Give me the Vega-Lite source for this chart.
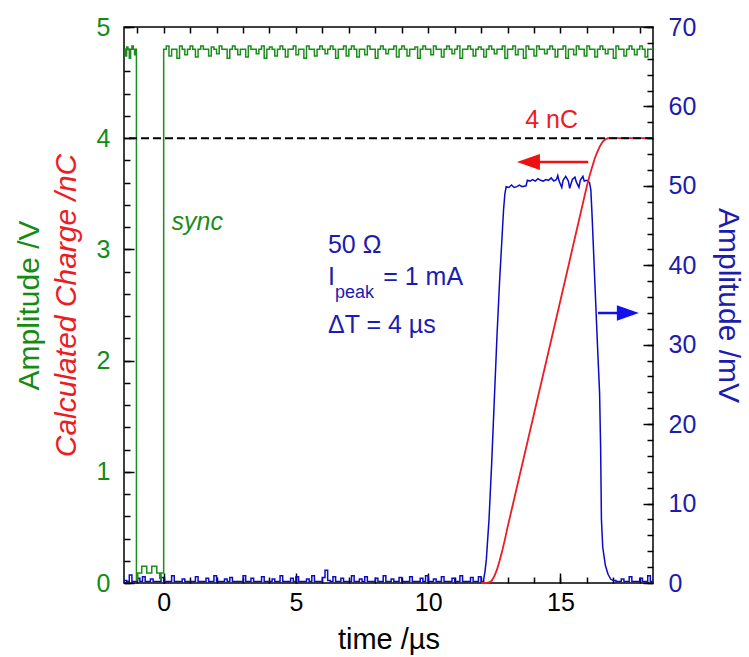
{
  "$schema": "https://vega.github.io/schema/vega-lite/v6.json",
  "width": 529,
  "height": 556,
  "autosize": {"type": "none"},
  "padding": {"left": 124, "top": 27, "right": 96, "bottom": 74},
  "config": {
    "view": {"stroke": "black", "strokeWidth": 1.5},
    "axis": {"domain": false, "grid": false, "labelFont": "Liberation Sans", "titleFont": "Liberation Sans", "labelFontSize": 25, "titleFontSize": 30, "titleFontWeight": "normal", "tickColor": "black", "tickWidth": 1.5},
    "text": {"font": "Liberation Sans"}
  },
  "datasets": {
    "sync": [
      {"t": -1.5, "v": 4.8}, {"t": -1.45, "v": 4.74}, {"t": -1.4, "v": 4.82}, {"t": -1.35, "v": 4.8}, {"t": -1.3, "v": 4.72}, {"t": -1.25, "v": 4.8}, {"t": -1.2, "v": 4.83}, {"t": -1.15, "v": 4.8}, {"t": -1.1, "v": 4.75}, {"t": -1.06, "v": 4.8},
      {"t": -1.03, "v": 0.03}, {"t": -0.98, "v": 0.09}, {"t": -0.83, "v": 0.15}, {"t": -0.64, "v": 0.09}, {"t": -0.45, "v": 0.15}, {"t": -0.26, "v": 0.09}, {"t": -0.15, "v": 0.04}, {"t": -0.1, "v": 0.09},
      {"t": 0.0, "v": 4.8}, {"t": 0.1, "v": 4.83}, {"t": 0.2, "v": 4.74}, {"t": 0.3, "v": 4.8}, {"t": 0.4, "v": 4.8}, {"t": 0.5, "v": 4.72}, {"t": 0.6, "v": 4.83}, {"t": 0.7, "v": 4.8}, {"t": 0.8, "v": 4.75}, {"t": 0.9, "v": 4.8},
      {"t": 1.0, "v": 4.83}, {"t": 1.1, "v": 4.8}, {"t": 1.2, "v": 4.73}, {"t": 1.3, "v": 4.8}, {"t": 1.4, "v": 4.83}, {"t": 1.5, "v": 4.8}, {"t": 1.6, "v": 4.8}, {"t": 1.7, "v": 4.74}, {"t": 1.8, "v": 4.82}, {"t": 1.9, "v": 4.8},
      {"t": 2.0, "v": 4.76}, {"t": 2.1, "v": 4.83}, {"t": 2.2, "v": 4.8}, {"t": 2.3, "v": 4.8}, {"t": 2.4, "v": 4.72}, {"t": 2.5, "v": 4.8}, {"t": 2.6, "v": 4.83}, {"t": 2.7, "v": 4.8}, {"t": 2.8, "v": 4.75}, {"t": 2.9, "v": 4.8},
      {"t": 3.0, "v": 4.8}, {"t": 3.1, "v": 4.73}, {"t": 3.2, "v": 4.83}, {"t": 3.3, "v": 4.8}, {"t": 3.4, "v": 4.8}, {"t": 3.5, "v": 4.76}, {"t": 3.6, "v": 4.8}, {"t": 3.7, "v": 4.83}, {"t": 3.8, "v": 4.72}, {"t": 3.9, "v": 4.8},
      {"t": 4.0, "v": 4.82}, {"t": 4.1, "v": 4.8}, {"t": 4.2, "v": 4.74}, {"t": 4.3, "v": 4.8}, {"t": 4.4, "v": 4.83}, {"t": 4.5, "v": 4.8}, {"t": 4.6, "v": 4.73}, {"t": 4.7, "v": 4.8}, {"t": 4.8, "v": 4.8}, {"t": 4.9, "v": 4.83},
      {"t": 5.0, "v": 4.75}, {"t": 5.1, "v": 4.8}, {"t": 5.2, "v": 4.8}, {"t": 5.3, "v": 4.72}, {"t": 5.4, "v": 4.83}, {"t": 5.5, "v": 4.8}, {"t": 5.6, "v": 4.8}, {"t": 5.7, "v": 4.74}, {"t": 5.8, "v": 4.8}, {"t": 5.9, "v": 4.83},
      {"t": 6.0, "v": 4.8}, {"t": 6.1, "v": 4.76}, {"t": 6.2, "v": 4.8}, {"t": 6.3, "v": 4.83}, {"t": 6.4, "v": 4.8}, {"t": 6.5, "v": 4.72}, {"t": 6.6, "v": 4.8}, {"t": 6.7, "v": 4.8}, {"t": 6.8, "v": 4.83}, {"t": 6.9, "v": 4.74},
      {"t": 7.0, "v": 4.8}, {"t": 7.1, "v": 4.83}, {"t": 7.2, "v": 4.8}, {"t": 7.3, "v": 4.73}, {"t": 7.4, "v": 4.8}, {"t": 7.5, "v": 4.8}, {"t": 7.6, "v": 4.75}, {"t": 7.7, "v": 4.83}, {"t": 7.8, "v": 4.8}, {"t": 7.9, "v": 4.8},
      {"t": 8.0, "v": 4.72}, {"t": 8.1, "v": 4.8}, {"t": 8.2, "v": 4.83}, {"t": 8.3, "v": 4.8}, {"t": 8.4, "v": 4.76}, {"t": 8.5, "v": 4.8}, {"t": 8.6, "v": 4.8}, {"t": 8.7, "v": 4.83}, {"t": 8.8, "v": 4.73}, {"t": 8.9, "v": 4.8},
      {"t": 9.0, "v": 4.83}, {"t": 9.1, "v": 4.8}, {"t": 9.2, "v": 4.74}, {"t": 9.3, "v": 4.8}, {"t": 9.4, "v": 4.8}, {"t": 9.5, "v": 4.82}, {"t": 9.6, "v": 4.72}, {"t": 9.7, "v": 4.8}, {"t": 9.8, "v": 4.83}, {"t": 9.9, "v": 4.8},
      {"t": 10.0, "v": 4.8}, {"t": 10.1, "v": 4.75}, {"t": 10.2, "v": 4.83}, {"t": 10.3, "v": 4.8}, {"t": 10.4, "v": 4.8}, {"t": 10.5, "v": 4.73}, {"t": 10.6, "v": 4.8}, {"t": 10.7, "v": 4.83}, {"t": 10.8, "v": 4.8}, {"t": 10.9, "v": 4.76},
      {"t": 11.0, "v": 4.8}, {"t": 11.1, "v": 4.83}, {"t": 11.2, "v": 4.72}, {"t": 11.3, "v": 4.8}, {"t": 11.4, "v": 4.8}, {"t": 11.5, "v": 4.83}, {"t": 11.6, "v": 4.8}, {"t": 11.7, "v": 4.74}, {"t": 11.8, "v": 4.8}, {"t": 11.9, "v": 4.82},
      {"t": 12.0, "v": 4.8}, {"t": 12.1, "v": 4.73}, {"t": 12.2, "v": 4.8}, {"t": 12.3, "v": 4.83}, {"t": 12.4, "v": 4.8}, {"t": 12.5, "v": 4.76}, {"t": 12.6, "v": 4.8}, {"t": 12.7, "v": 4.8}, {"t": 12.8, "v": 4.83}, {"t": 12.9, "v": 4.72},
      {"t": 13.0, "v": 4.8}, {"t": 13.1, "v": 4.8}, {"t": 13.2, "v": 4.83}, {"t": 13.3, "v": 4.75}, {"t": 13.4, "v": 4.8}, {"t": 13.5, "v": 4.8}, {"t": 13.6, "v": 4.72}, {"t": 13.7, "v": 4.83}, {"t": 13.8, "v": 4.8}, {"t": 13.9, "v": 4.8},
      {"t": 14.0, "v": 4.74}, {"t": 14.1, "v": 4.83}, {"t": 14.2, "v": 4.8}, {"t": 14.3, "v": 4.8}, {"t": 14.4, "v": 4.76}, {"t": 14.5, "v": 4.8}, {"t": 14.6, "v": 4.83}, {"t": 14.7, "v": 4.8}, {"t": 14.8, "v": 4.73}, {"t": 14.9, "v": 4.8},
      {"t": 15.0, "v": 4.8}, {"t": 15.1, "v": 4.83}, {"t": 15.2, "v": 4.72}, {"t": 15.3, "v": 4.8}, {"t": 15.4, "v": 4.8}, {"t": 15.5, "v": 4.75}, {"t": 15.6, "v": 4.83}, {"t": 15.7, "v": 4.8}, {"t": 15.8, "v": 4.8}, {"t": 15.9, "v": 4.74},
      {"t": 16.0, "v": 4.83}, {"t": 16.1, "v": 4.8}, {"t": 16.2, "v": 4.8}, {"t": 16.3, "v": 4.73}, {"t": 16.4, "v": 4.8}, {"t": 16.5, "v": 4.83}, {"t": 16.6, "v": 4.8}, {"t": 16.7, "v": 4.76}, {"t": 16.8, "v": 4.8}, {"t": 16.9, "v": 4.8},
      {"t": 17.0, "v": 4.72}, {"t": 17.1, "v": 4.83}, {"t": 17.2, "v": 4.8}, {"t": 17.3, "v": 4.8}, {"t": 17.4, "v": 4.74}, {"t": 17.5, "v": 4.8}, {"t": 17.6, "v": 4.83}, {"t": 17.7, "v": 4.8}, {"t": 17.8, "v": 4.75}, {"t": 17.9, "v": 4.8},
      {"t": 18.0, "v": 4.83}, {"t": 18.1, "v": 4.8}, {"t": 18.2, "v": 4.73}, {"t": 18.3, "v": 4.8}, {"t": 18.4, "v": 4.8}, {"t": 18.5, "v": 4.8}
    ],
    "blueNoise": [
      {"s": "a", "t": -1.5, "mv": 0.3}, {"s": "a", "t": -1.4, "mv": 0.2}, {"s": "a", "t": -1.3, "mv": 1.0}, {"s": "a", "t": -1.2, "mv": 0.2}, {"s": "a", "t": -1.1, "mv": 0.2}, {"s": "a", "t": -1.0, "mv": 0.6}, {"s": "a", "t": -0.9, "mv": 0.2}, {"s": "a", "t": -0.8, "mv": 0.8}, {"s": "a", "t": -0.7, "mv": 0.2}, {"s": "a", "t": -0.6, "mv": 0.2},
      {"s": "a", "t": -0.5, "mv": 0.5}, {"s": "a", "t": -0.4, "mv": 0.2}, {"s": "a", "t": -0.3, "mv": 0.2}, {"s": "a", "t": -0.2, "mv": 0.2}, {"s": "a", "t": -0.1, "mv": 0.7}, {"s": "a", "t": 0.0, "mv": 0.2}, {"s": "a", "t": 0.1, "mv": 0.2}, {"s": "a", "t": 0.2, "mv": 0.2}, {"s": "a", "t": 0.3, "mv": 0.9}, {"s": "a", "t": 0.4, "mv": 0.2},
      {"s": "a", "t": 0.5, "mv": 0.2}, {"s": "a", "t": 0.6, "mv": 0.2}, {"s": "a", "t": 0.7, "mv": 0.5}, {"s": "a", "t": 0.8, "mv": 0.2}, {"s": "a", "t": 0.9, "mv": 0.2}, {"s": "a", "t": 1.0, "mv": 0.2}, {"s": "a", "t": 1.1, "mv": 0.2}, {"s": "a", "t": 1.2, "mv": 0.8}, {"s": "a", "t": 1.3, "mv": 0.2}, {"s": "a", "t": 1.4, "mv": 0.2},
      {"s": "a", "t": 1.5, "mv": 0.2}, {"s": "a", "t": 1.6, "mv": 0.6}, {"s": "a", "t": 1.7, "mv": 0.2}, {"s": "a", "t": 1.8, "mv": 0.2}, {"s": "a", "t": 1.9, "mv": 0.9}, {"s": "a", "t": 2.0, "mv": 0.2}, {"s": "a", "t": 2.1, "mv": 0.2}, {"s": "a", "t": 2.2, "mv": 0.2}, {"s": "a", "t": 2.3, "mv": 0.5}, {"s": "a", "t": 2.4, "mv": 0.2},
      {"s": "a", "t": 2.5, "mv": 0.7}, {"s": "a", "t": 2.6, "mv": 0.2}, {"s": "a", "t": 2.7, "mv": 0.2}, {"s": "a", "t": 2.8, "mv": 0.2}, {"s": "a", "t": 2.9, "mv": 0.2}, {"s": "a", "t": 3.0, "mv": 0.9}, {"s": "a", "t": 3.1, "mv": 0.2}, {"s": "a", "t": 3.2, "mv": 0.2}, {"s": "a", "t": 3.3, "mv": 0.6}, {"s": "a", "t": 3.4, "mv": 0.2},
      {"s": "a", "t": 3.5, "mv": 0.2}, {"s": "a", "t": 3.6, "mv": 0.2}, {"s": "a", "t": 3.7, "mv": 0.8}, {"s": "a", "t": 3.8, "mv": 0.2}, {"s": "a", "t": 3.9, "mv": 0.2}, {"s": "a", "t": 4.0, "mv": 0.2}, {"s": "a", "t": 4.1, "mv": 0.5}, {"s": "a", "t": 4.2, "mv": 0.2}, {"s": "a", "t": 4.3, "mv": 0.2}, {"s": "a", "t": 4.4, "mv": 0.9},
      {"s": "a", "t": 4.5, "mv": 0.2}, {"s": "a", "t": 4.6, "mv": 0.2}, {"s": "a", "t": 4.7, "mv": 0.2}, {"s": "a", "t": 4.8, "mv": 0.6}, {"s": "a", "t": 4.9, "mv": 0.2}, {"s": "a", "t": 5.0, "mv": 0.8}, {"s": "a", "t": 5.1, "mv": 0.2}, {"s": "a", "t": 5.2, "mv": 0.2}, {"s": "a", "t": 5.3, "mv": 0.2}, {"s": "a", "t": 5.4, "mv": 0.5},
      {"s": "a", "t": 5.5, "mv": 0.2}, {"s": "a", "t": 5.6, "mv": 0.9}, {"s": "a", "t": 5.7, "mv": 0.2}, {"s": "a", "t": 5.8, "mv": 0.2}, {"s": "a", "t": 5.9, "mv": 0.2}, {"s": "a", "t": 6.0, "mv": 0.7}, {"s": "a", "t": 6.1, "mv": 1.6}, {"s": "a", "t": 6.2, "mv": 0.3}, {"s": "a", "t": 6.3, "mv": 0.2}, {"s": "a", "t": 6.4, "mv": 0.8},
      {"s": "a", "t": 6.5, "mv": 0.2}, {"s": "a", "t": 6.6, "mv": 0.2}, {"s": "a", "t": 6.7, "mv": 0.6}, {"s": "a", "t": 6.8, "mv": 0.2}, {"s": "a", "t": 6.9, "mv": 0.2}, {"s": "a", "t": 7.0, "mv": 0.2}, {"s": "a", "t": 7.1, "mv": 0.9}, {"s": "a", "t": 7.2, "mv": 0.2}, {"s": "a", "t": 7.3, "mv": 0.2}, {"s": "a", "t": 7.4, "mv": 0.5},
      {"s": "a", "t": 7.5, "mv": 0.2}, {"s": "a", "t": 7.6, "mv": 0.8}, {"s": "a", "t": 7.7, "mv": 0.2}, {"s": "a", "t": 7.8, "mv": 0.2}, {"s": "a", "t": 7.9, "mv": 0.2}, {"s": "a", "t": 8.0, "mv": 0.6}, {"s": "a", "t": 8.1, "mv": 0.2}, {"s": "a", "t": 8.2, "mv": 0.2}, {"s": "a", "t": 8.3, "mv": 0.9}, {"s": "a", "t": 8.4, "mv": 0.2},
      {"s": "a", "t": 8.5, "mv": 0.2}, {"s": "a", "t": 8.6, "mv": 0.5}, {"s": "a", "t": 8.7, "mv": 0.2}, {"s": "a", "t": 8.8, "mv": 0.2}, {"s": "a", "t": 8.9, "mv": 0.7}, {"s": "a", "t": 9.0, "mv": 0.2}, {"s": "a", "t": 9.1, "mv": 0.2}, {"s": "a", "t": 9.2, "mv": 0.2}, {"s": "a", "t": 9.3, "mv": 0.8}, {"s": "a", "t": 9.4, "mv": 0.2},
      {"s": "a", "t": 9.5, "mv": 0.2}, {"s": "a", "t": 9.6, "mv": 0.2}, {"s": "a", "t": 9.7, "mv": 0.6}, {"s": "a", "t": 9.8, "mv": 0.2}, {"s": "a", "t": 9.9, "mv": 0.9}, {"s": "a", "t": 10.0, "mv": 0.2}, {"s": "a", "t": 10.1, "mv": 0.2}, {"s": "a", "t": 10.2, "mv": 0.5}, {"s": "a", "t": 10.3, "mv": 0.2}, {"s": "a", "t": 10.4, "mv": 0.2},
      {"s": "a", "t": 10.5, "mv": 0.8}, {"s": "a", "t": 10.6, "mv": 0.2}, {"s": "a", "t": 10.7, "mv": 0.2}, {"s": "a", "t": 10.8, "mv": 0.2}, {"s": "a", "t": 10.9, "mv": 0.6}, {"s": "a", "t": 11.0, "mv": 0.2}, {"s": "a", "t": 11.1, "mv": 0.2}, {"s": "a", "t": 11.2, "mv": 0.9}, {"s": "a", "t": 11.3, "mv": 0.2}, {"s": "a", "t": 11.4, "mv": 0.2},
      {"s": "a", "t": 11.5, "mv": 0.2}, {"s": "a", "t": 11.6, "mv": 0.7}, {"s": "a", "t": 11.7, "mv": 0.2}, {"s": "a", "t": 11.8, "mv": 0.2}, {"s": "a", "t": 11.9, "mv": 0.8}, {"s": "a", "t": 12.0, "mv": 0.2}, {"s": "a", "t": 12.1, "mv": 0.5},
      {"s": "b", "t": 17.0, "mv": 0.3}, {"s": "b", "t": 17.1, "mv": 0.2}, {"s": "b", "t": 17.2, "mv": 0.2}, {"s": "b", "t": 17.3, "mv": 0.5}, {"s": "b", "t": 17.4, "mv": 0.2}, {"s": "b", "t": 17.5, "mv": 0.2}, {"s": "b", "t": 17.6, "mv": 0.8}, {"s": "b", "t": 17.7, "mv": 0.2}, {"s": "b", "t": 17.8, "mv": 0.2}, {"s": "b", "t": 17.9, "mv": 0.2}, {"s": "b", "t": 18.0, "mv": 0.6}, {"s": "b", "t": 18.1, "mv": 0.2}, {"s": "b", "t": 18.2, "mv": 0.2}, {"s": "b", "t": 18.3, "mv": 0.9}, {"s": "b", "t": 18.4, "mv": 0.2}, {"s": "b", "t": 18.5, "mv": 0.2}
    ],
    "bluePulse": [
      {"t": 12.1, "mv": 0.5}, {"t": 12.15, "mv": 1.5}, {"t": 12.2, "mv": 3}, {"t": 12.3, "mv": 8}, {"t": 12.4, "mv": 15}, {"t": 12.5, "mv": 23}, {"t": 12.6, "mv": 31}, {"t": 12.7, "mv": 38}, {"t": 12.8, "mv": 44}, {"t": 12.85, "mv": 47}, {"t": 12.9, "mv": 49}, {"t": 12.95, "mv": 49.9},
      {"t": 13.05, "mv": 49.8}, {"t": 13.15, "mv": 50.1}, {"t": 13.25, "mv": 49.8}, {"t": 13.35, "mv": 49.9}, {"t": 13.45, "mv": 50.1}, {"t": 13.55, "mv": 49.9}, {"t": 13.7, "mv": 50.0}, {"t": 13.75, "mv": 50.7},
      {"t": 13.85, "mv": 50.6}, {"t": 13.95, "mv": 50.8}, {"t": 14.05, "mv": 50.6}, {"t": 14.15, "mv": 50.9}, {"t": 14.25, "mv": 50.7}, {"t": 14.35, "mv": 50.6}, {"t": 14.45, "mv": 50.8}, {"t": 14.55, "mv": 50.7}, {"t": 14.65, "mv": 51.0}, {"t": 14.75, "mv": 50.6}, {"t": 14.85, "mv": 50.8},
      {"t": 14.9, "mv": 51.3}, {"t": 14.95, "mv": 50.6}, {"t": 15.05, "mv": 49.8}, {"t": 15.1, "mv": 50.7}, {"t": 15.2, "mv": 51.2}, {"t": 15.3, "mv": 50.6}, {"t": 15.35, "mv": 49.7}, {"t": 15.45, "mv": 50.8}, {"t": 15.55, "mv": 51.1}, {"t": 15.6, "mv": 50.5}, {"t": 15.7, "mv": 49.8}, {"t": 15.75, "mv": 50.7}, {"t": 15.85, "mv": 51.2}, {"t": 15.9, "mv": 50.6}, {"t": 16.0, "mv": 50.7}, {"t": 16.1, "mv": 50.4},
      {"t": 16.15, "mv": 49.5}, {"t": 16.2, "mv": 46}, {"t": 16.3, "mv": 38}, {"t": 16.4, "mv": 30}, {"t": 16.48, "mv": 24}, {"t": 16.52, "mv": 17}, {"t": 16.55, "mv": 8}, {"t": 16.6, "mv": 4.5}, {"t": 16.7, "mv": 2.2}, {"t": 16.8, "mv": 1.1}, {"t": 16.9, "mv": 0.5}, {"t": 17.0, "mv": 0.3}
    ],
    "charge": [
      {"t": 12.0, "q": 0}, {"t": 12.2, "q": 0}, {"t": 12.3, "q": 0.005}, {"t": 12.4, "q": 0.02}, {"t": 12.5, "q": 0.06}, {"t": 12.6, "q": 0.12}, {"t": 12.7, "q": 0.2}, {"t": 12.8, "q": 0.29}, {"t": 12.9, "q": 0.39}, {"t": 13.0, "q": 0.5},
      {"t": 14.0, "q": 1.52}, {"t": 15.0, "q": 2.54}, {"t": 16.0, "q": 3.57}, {"t": 16.1, "q": 3.66}, {"t": 16.2, "q": 3.74}, {"t": 16.3, "q": 3.82}, {"t": 16.4, "q": 3.88}, {"t": 16.5, "q": 3.93}, {"t": 16.6, "q": 3.97}, {"t": 16.7, "q": 3.99}, {"t": 16.8, "q": 4.0}, {"t": 18.5, "q": 4.0}
    ]
  },
  "layer": [
    {
      "layer": [
        {
          "data": {"name": "blueNoise"},
          "mark": {"type": "line", "interpolate": "step-after", "color": "#0b0bc4", "strokeWidth": 1.5},
          "encoding": {
            "x": {"field": "t", "type": "quantitative", "scale": {"domain": [-1.5, 18.5], "nice": false}, "axis": null},
            "y": {"field": "mv", "type": "quantitative", "scale": {"domain": [0, 70], "nice": false}, "axis": null},
            "detail": {"field": "s"}
          }
        },
        {
          "data": {"name": "bluePulse"},
          "mark": {"type": "line", "color": "#0b0bc4", "strokeWidth": 1.5},
          "encoding": {
            "x": {"field": "t", "type": "quantitative", "scale": {"domain": [-1.5, 18.5], "nice": false}, "axis": null},
            "y": {"field": "mv", "type": "quantitative", "scale": {"domain": [0, 70], "nice": false}, "axis": null}
          }
        }
      ]
    },
    {
      "layer": [
        {
          "data": {"name": "sync"},
          "mark": {"type": "line", "interpolate": "step-after", "color": "#1c8c1c", "strokeWidth": 1.5},
          "encoding": {
            "x": {"field": "t", "type": "quantitative", "scale": {"domain": [-1.5, 18.5], "nice": false}, "axis": null},
            "y": {"field": "v", "type": "quantitative", "scale": {"domain": [0, 5], "nice": false}, "axis": null}
          }
        },
        {
          "data": {"name": "charge"},
          "mark": {"type": "line", "color": "#ed1c24", "strokeWidth": 1.8},
          "encoding": {
            "x": {"field": "t", "type": "quantitative", "scale": {"domain": [-1.5, 18.5], "nice": false}, "axis": null},
            "y": {"field": "q", "type": "quantitative", "scale": {"domain": [0, 5], "nice": false}, "axis": null}
          }
        },
        {
          "data": {"values": [{}]},
          "mark": {"type": "rule", "color": "black", "strokeWidth": 2, "strokeDash": [8, 4]},
          "encoding": {
            "y": {"datum": 4, "type": "quantitative", "scale": {"domain": [0, 5], "nice": false}, "axis": null}
          }
        },
        {
          "data": {"values": [{}]},
          "mark": {"type": "text", "text": "sync", "color": "#1c8c1c", "fontSize": 25, "fontStyle": "italic", "align": "left", "baseline": "alphabetic"},
          "encoding": {
            "x": {"datum": 0.3, "type": "quantitative", "scale": {"domain": [-1.5, 18.5], "nice": false}, "axis": null},
            "y": {"datum": 3.174, "type": "quantitative", "scale": {"domain": [0, 5], "nice": false}, "axis": null}
          }
        },
        {
          "data": {"values": [{}]},
          "mark": {"type": "text", "text": "4 nC", "color": "#ed1c24", "fontSize": 25, "align": "left", "baseline": "alphabetic"},
          "encoding": {
            "x": {"datum": 13.67, "type": "quantitative", "scale": {"domain": [-1.5, 18.5], "nice": false}, "axis": null},
            "y": {"datum": 4.09, "type": "quantitative", "scale": {"domain": [0, 5], "nice": false}, "axis": null}
          }
        },
        {
          "data": {"values": [{}]},
          "mark": {"type": "text", "text": "50 Ω", "color": "#1c1cae", "fontSize": 25, "align": "left", "baseline": "alphabetic"},
          "encoding": {
            "x": {"datum": 6.21, "type": "quantitative", "scale": {"domain": [-1.5, 18.5], "nice": false}, "axis": null},
            "y": {"datum": 2.968, "type": "quantitative", "scale": {"domain": [0, 5], "nice": false}, "axis": null}
          }
        },
        {
          "data": {"values": [{}]},
          "mark": {"type": "text", "text": "I", "color": "#1c1cae", "fontSize": 25, "align": "left", "baseline": "alphabetic"},
          "encoding": {
            "x": {"datum": 6.21, "type": "quantitative", "scale": {"domain": [-1.5, 18.5], "nice": false}, "axis": null},
            "y": {"datum": 2.68, "type": "quantitative", "scale": {"domain": [0, 5], "nice": false}, "axis": null}
          }
        },
        {
          "data": {"values": [{}]},
          "mark": {"type": "text", "text": "peak", "color": "#1c1cae", "fontSize": 18, "align": "left", "baseline": "alphabetic"},
          "encoding": {
            "x": {"datum": 6.48, "type": "quantitative", "scale": {"domain": [-1.5, 18.5], "nice": false}, "axis": null},
            "y": {"datum": 2.563, "type": "quantitative", "scale": {"domain": [0, 5], "nice": false}, "axis": null}
          }
        },
        {
          "data": {"values": [{}]},
          "mark": {"type": "text", "text": "= 1 mA", "color": "#1c1cae", "fontSize": 25, "align": "left", "baseline": "alphabetic"},
          "encoding": {
            "x": {"datum": 8.3, "type": "quantitative", "scale": {"domain": [-1.5, 18.5], "nice": false}, "axis": null},
            "y": {"datum": 2.68, "type": "quantitative", "scale": {"domain": [0, 5], "nice": false}, "axis": null}
          }
        },
        {
          "data": {"values": [{}]},
          "mark": {"type": "text", "text": "ΔT = 4 µs", "color": "#1c1cae", "fontSize": 25, "align": "left", "baseline": "alphabetic"},
          "encoding": {
            "x": {"datum": 6.21, "type": "quantitative", "scale": {"domain": [-1.5, 18.5], "nice": false}, "axis": null},
            "y": {"datum": 2.248, "type": "quantitative", "scale": {"domain": [0, 5], "nice": false}, "axis": null}
          }
        },
        {
          "data": {"values": [{}]},
          "mark": {"type": "rule", "color": "#ee1111", "strokeWidth": 2.5},
          "encoding": {
            "x": {"datum": 14.2, "type": "quantitative", "scale": {"domain": [-1.5, 18.5], "nice": false}, "axis": null},
            "x2": {"datum": 16.05},
            "y": {"datum": 3.786, "type": "quantitative", "scale": {"domain": [0, 5], "nice": false}, "axis": null}
          }
        },
        {
          "data": {"values": [{}]},
          "mark": {"type": "point", "shape": "M -1 0 L 1 -0.7 L 1 0.7 Z", "size": 529, "filled": true, "opacity": 1, "color": "#ee1111", "strokeWidth": 0},
          "encoding": {
            "x": {"datum": 13.79, "type": "quantitative", "scale": {"domain": [-1.5, 18.5], "nice": false}, "axis": null},
            "y": {"datum": 3.786, "type": "quantitative", "scale": {"domain": [0, 5], "nice": false}, "axis": null}
          }
        },
        {
          "data": {"values": [{}]},
          "mark": {"type": "rule", "color": "#1111ee", "strokeWidth": 2.5},
          "encoding": {
            "x": {"datum": 16.42, "type": "quantitative", "scale": {"domain": [-1.5, 18.5], "nice": false}, "axis": null},
            "x2": {"datum": 17.3},
            "y": {"datum": 2.428, "type": "quantitative", "scale": {"domain": [0, 5], "nice": false}, "axis": null}
          }
        },
        {
          "data": {"values": [{}]},
          "mark": {"type": "point", "shape": "M 1 0 L -1 -0.7 L -1 0.7 Z", "size": 484, "filled": true, "opacity": 1, "color": "#1111ee", "strokeWidth": 0},
          "encoding": {
            "x": {"datum": 17.55, "type": "quantitative", "scale": {"domain": [-1.5, 18.5], "nice": false}, "axis": null},
            "y": {"datum": 2.428, "type": "quantitative", "scale": {"domain": [0, 5], "nice": false}, "axis": null}
          }
        }
      ]
    },
    {
      "data": {"values": [{}]},
      "mark": {"type": "point", "opacity": 0},
      "encoding": {
        "x": {"datum": 0, "type": "quantitative", "scale": {"domain": [-1.5, 18.5], "nice": false},
          "axis": {"orient": "bottom", "values": [-1,0,1,2,3,4,5,6,7,8,9,10,11,12,13,14,15,16,17,18],
            "labelExpr": "datum.value % 5 === 0 ? datum.label : ''",
            "tickSize": -6, "labelPadding": 13, "labelColor": "black",
            "title": "time /µs", "titleColor": "black", "titleFontSize": 29, "titleX": 264.5, "titleY": 65, "titleAlign": "center", "titleBaseline": "alphabetic"}},
        "y": {"datum": 0, "type": "quantitative", "scale": {"domain": [0, 5], "nice": false},
          "axis": {"orient": "left", "values": [0,0.2,0.4,0.6,0.8,1,1.2,1.4,1.6,1.8,2,2.2,2.4,2.6,2.8,3,3.2,3.4,3.6,3.8,4,4.2,4.4,4.6,4.8,5],
            "labelExpr": "abs(datum.value - round(datum.value)) < 0.01 ? format(datum.value, 'd') : ''",
            "tickSize": -6, "labelPadding": 20, "labelColor": "#148c14",
            "title": "Amplitude /V", "titleColor": "#148c14", "titleAngle": -90, "titleX": -86, "titleY": 278, "titleAlign": "center", "titleBaseline": "alphabetic"}}
      }
    },
    {
      "data": {"values": [{}]},
      "mark": {"type": "point", "opacity": 0},
      "encoding": {
        "x": {"datum": 0, "type": "quantitative", "scale": {"domain": [-1.5, 18.5], "nice": false},
          "axis": {"orient": "bottom", "values": [0, 5, 10, 15], "labels": false, "tickSize": -10, "title": null}},
        "y": {"datum": 0, "type": "quantitative", "scale": {"domain": [0, 5], "nice": false},
          "axis": {"orient": "left", "values": [0, 1, 2, 3, 4, 5], "labels": false, "tickSize": -10, "title": null}}
      }
    },
    {
      "data": {"values": [{}]},
      "mark": {"type": "point", "opacity": 0},
      "encoding": {
        "x": {"datum": 0, "type": "quantitative", "scale": {"domain": [-1.5, 18.5], "nice": false},
          "axis": {"orient": "top", "values": [-1,0,1,2,3,4,5,6,7,8,9,10,11,12,13,14,15,16,17,18], "labels": false, "tickSize": -6, "title": null}},
        "y": {"datum": 0, "type": "quantitative", "scale": {"domain": [0, 5], "nice": false},
          "axis": {"orient": "left", "labels": false, "ticks": false, "title": "Calculated Charge /nC", "titleColor": "#ed1c24", "titleFontStyle": "italic", "titleAngle": -90, "titleX": -49, "titleY": 278, "titleAlign": "center", "titleBaseline": "alphabetic"}}
      }
    },
    {
      "data": {"values": [{}]},
      "mark": {"type": "point", "opacity": 0},
      "encoding": {
        "x": {"datum": 0, "type": "quantitative", "scale": {"domain": [-1.5, 18.5], "nice": false}, "axis": null},
        "y": {"datum": 0, "type": "quantitative", "scale": {"domain": [0, 70], "nice": false},
          "axis": {"orient": "right", "values": [0,2,4,6,8,10,12,14,16,18,20,22,24,26,28,30,32,34,36,38,40,42,44,46,48,50,52,54,56,58,60,62,64,66,68,70],
            "labelExpr": "datum.value % 10 === 0 ? datum.label : ''",
            "tickSize": -6, "labelPadding": 21, "labelColor": "#1c1cae",
            "title": "Amplitude /mV", "titleColor": "#1c1cae", "titleAngle": 90, "titleX": 65, "titleY": 278, "titleAlign": "center", "titleBaseline": "alphabetic"}}
      }
    },
    {
      "data": {"values": [{}]},
      "mark": {"type": "point", "opacity": 0},
      "encoding": {
        "x": {"datum": 0, "type": "quantitative", "scale": {"domain": [-1.5, 18.5], "nice": false}, "axis": null},
        "y": {"datum": 0, "type": "quantitative", "scale": {"domain": [0, 70], "nice": false},
          "axis": {"orient": "right", "values": [0, 10, 20, 30, 40, 50, 60, 70], "labels": false, "tickSize": -10, "title": null}}
      }
    }
  ],
  "resolve": {"scale": {"x": "independent", "y": "independent"}}
}
